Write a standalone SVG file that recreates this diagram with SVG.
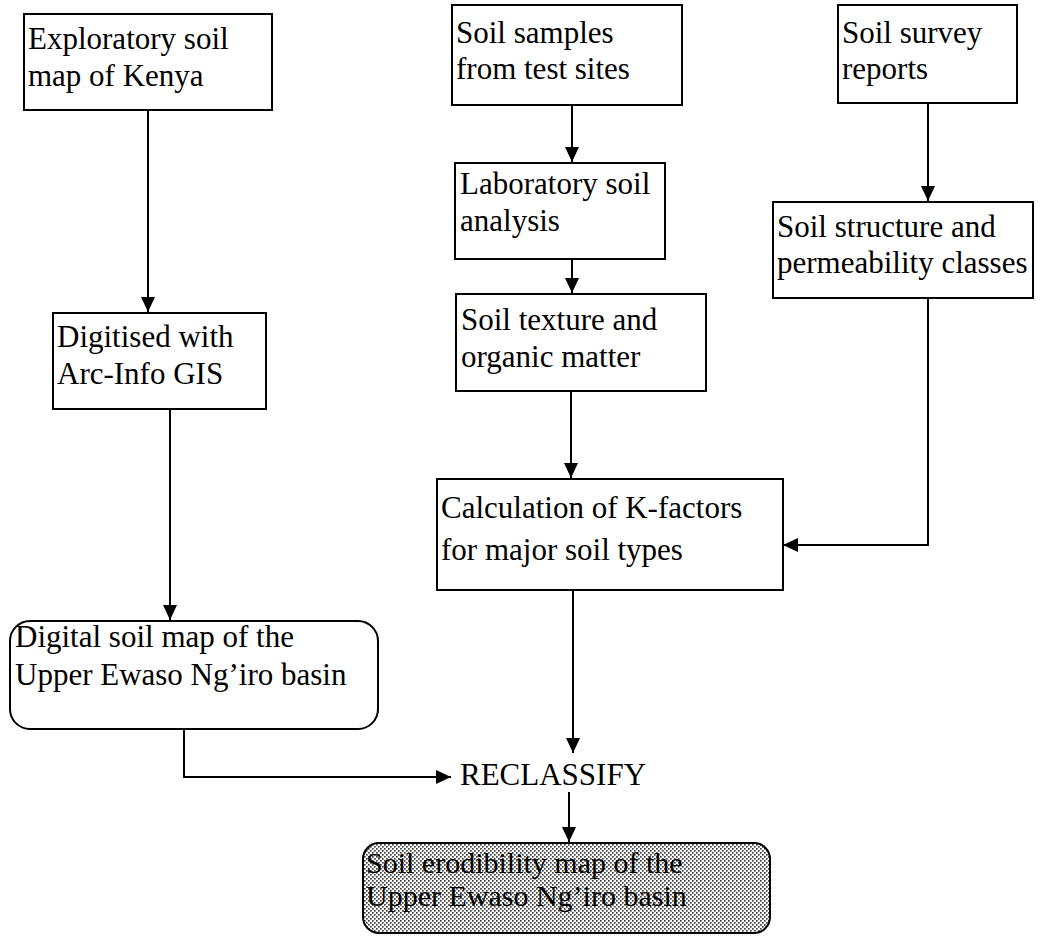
<svg xmlns="http://www.w3.org/2000/svg" width="1049" height="937" viewBox="0 0 1049 937">
  <style>
    .box { fill: #ffffff; stroke: #000000; stroke-width: 2; }
    .lbl { font-family: "Liberation Serif", "Times New Roman", serif; font-size: 31px; fill: #000000; }
    .lbl-sm { font-family: "Liberation Serif", "Times New Roman", serif; font-size: 30px; fill: #000000; }
    .link { fill: none; stroke: #000000; stroke-width: 2; }
  </style>
  <defs>
    <marker id="arrow" markerUnits="userSpaceOnUse" markerWidth="16" markerHeight="15" refX="15" refY="7" orient="auto">
      <path d="M0,0 L15,7 L0,14 z" fill="#000000"/>
    </marker>
    <!-- fine dot screen used for the output map box -->
    <pattern id="dots" width="4" height="4" patternUnits="userSpaceOnUse">
      <rect width="4" height="4" fill="#ffffff"/>
      <rect x="0" y="0" width="1.7" height="1.7" fill="#444444"/>
      <rect x="2" y="2" width="1.7" height="1.7" fill="#444444"/>
    </pattern>
  </defs>

  <rect width="1049" height="937" fill="#ffffff"/>

  <g id="connectors">
    <path class="link" d="M148,110 V312" marker-end="url(#arrow)"/>
    <path class="link" d="M170,409 V620" marker-end="url(#arrow)"/>
    <path class="link" d="M184,729 V777 H451" marker-end="url(#arrow)"/>
    <path class="link" d="M572,105 V162" marker-end="url(#arrow)"/>
    <path class="link" d="M572,259 V293" marker-end="url(#arrow)"/>
    <path class="link" d="M928,103 V201" marker-end="url(#arrow)"/>
    <path class="link" d="M571,391 V478" marker-end="url(#arrow)"/>
    <path class="link" d="M928,298 V545 H783" marker-end="url(#arrow)"/>
    <path class="link" d="M573,590 V753" marker-end="url(#arrow)"/>
    <path class="link" d="M569,792 V842" marker-end="url(#arrow)"/>
  </g>

  <g id="exploratory-map">
    <rect class="box" x="24" y="14" width="248" height="96"/>
    <text class="lbl" x="28" y="49">Exploratory soil</text>
    <text class="lbl" x="28" y="86">map of Kenya</text>
  </g>

  <g id="digitised">
    <rect class="box" x="53" y="313" width="213" height="96"/>
    <text class="lbl" x="57" y="347">Digitised with</text>
    <text class="lbl" x="57" y="384">Arc-Info GIS</text>
  </g>

  <g id="digital-map">
    <rect class="box" x="10" y="621" width="368" height="108" rx="20" ry="20"/>
    <text class="lbl" x="15" y="647">Digital soil map of the</text>
    <text class="lbl" x="15" y="685">Upper Ewaso Ng’iro basin</text>
  </g>

  <g id="soil-samples">
    <rect class="box" x="452" y="5" width="230" height="100"/>
    <text class="lbl" x="456" y="43">Soil samples</text>
    <text class="lbl" x="456" y="79">from test sites</text>
  </g>

  <g id="lab-analysis">
    <rect class="box" x="455" y="163" width="210" height="96"/>
    <text class="lbl" x="460" y="194">Laboratory soil</text>
    <text class="lbl" x="460" y="231">analysis</text>
  </g>

  <g id="texture">
    <rect class="box" x="456" y="294" width="250" height="97"/>
    <text class="lbl" x="461" y="330">Soil texture and</text>
    <text class="lbl" x="461" y="367">organic matter</text>
  </g>

  <g id="survey-reports">
    <rect class="box" x="838" y="5" width="179" height="98"/>
    <text class="lbl" x="842" y="43">Soil survey</text>
    <text class="lbl" x="842" y="79">reports</text>
  </g>

  <g id="structure">
    <rect class="box" x="773" y="202" width="260" height="96"/>
    <text class="lbl" x="777" y="237">Soil structure and</text>
    <text class="lbl" x="777" y="273">permeability classes</text>
  </g>

  <g id="k-factors">
    <rect class="box" x="437" y="479" width="346" height="111"/>
    <text class="lbl" x="441" y="518">Calculation of K-factors</text>
    <text class="lbl" x="441" y="560">for major soil types</text>
  </g>

  <g id="reclassify">
    <text class="lbl" x="460" y="785">RECLASSIFY</text>
  </g>

  <g id="erodibility-map">
    <rect x="363" y="843" width="407" height="90" rx="16" ry="16" fill="url(#dots)" stroke="#000000" stroke-width="2"/>
    <text class="lbl-sm" x="366" y="873">Soil erodibility map of the</text>
    <text class="lbl-sm" x="366" y="906">Upper Ewaso Ng’iro basin</text>
  </g>
</svg>
